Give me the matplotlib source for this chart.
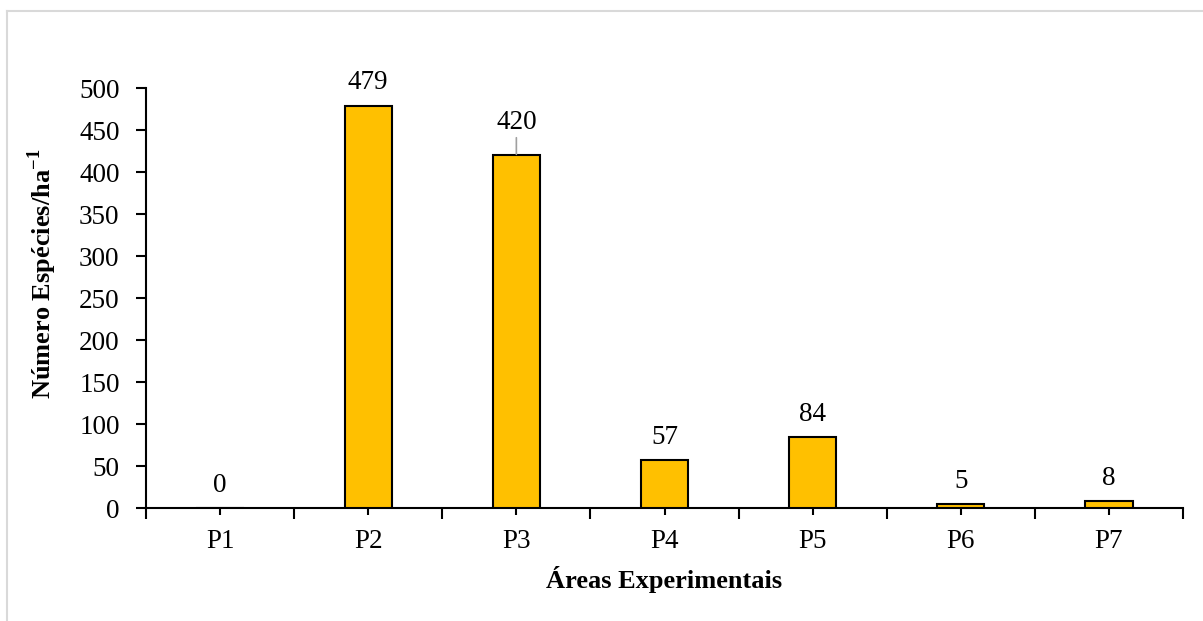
import matplotlib
matplotlib.use("Agg")
import matplotlib.pyplot as plt
from matplotlib.lines import Line2D
import numpy as np

categories = ["P1", "P2", "P3", "P4", "P5", "P6", "P7"]
values = [0, 479, 420, 57, 84, 5, 8]
yticks = [0, 50, 100, 150, 200, 250, 300, 350, 400, 450, 500]

plt.rcParams['font.family'] = ['Liberation Serif', 'DejaVu Serif']
plt.rcParams['mathtext.fontset'] = 'custom'
plt.rcParams['mathtext.rm'] = 'Liberation Serif'
plt.rcParams['mathtext.bf'] = 'Liberation Serif:bold'
W, H = 1203, 621
fig = plt.figure(figsize=(W / 100, H / 100), dpi=100)
ax = fig.add_axes([146 / W, 1 - 508 / H, (1183 - 146) / W, (508 - 88) / H])

x = np.arange(len(categories))
ax.bar(x, values, width=0.32, color="#FFC000", edgecolor="black", linewidth=1.5, zorder=3)

FS = 19.5
ax.set_xlim(-0.5, len(categories) - 0.5)
ax.set_ylim(0, 500)
ax.set_yticks(yticks)
ax.set_yticklabels([str(v) for v in yticks], fontsize=FS)

ax.set_xticks(np.arange(-0.5, len(categories), 1.0))
ax.set_xticklabels([])
ax.set_xticks(x, minor=True)
ax.set_xticklabels(categories, minor=True, fontsize=FS)
ax.tick_params(axis='x', which='major', length=8, width=1.5, direction='out')
ax.tick_params(axis='x', which='minor', length=5, width=1.5, direction='out', pad=10)
ax.tick_params(axis='y', length=7, width=1.5, direction='out', pad=12)

for s in ['top', 'right']:
    ax.spines[s].set_visible(False)
for s in ['left', 'bottom']:
    ax.spines[s].set_linewidth(1.5)

for xi, v in zip(x, values):
    if v == 420:
        ax.annotate(str(v), xy=(xi, v + 1), xytext=(xi, v + 39), ha='center', va='center',
                    fontsize=FS, arrowprops=dict(arrowstyle='-', color='#a0a0a0', lw=1.2,
                                                 shrinkA=12, shrinkB=0))
    else:
        ax.text(xi, v + 27, str(v), ha='center', va='center', fontsize=FS)

ax.set_xlabel("Áreas Experimentais", fontsize=19, fontweight='bold', labelpad=9)
ax.set_ylabel("Número Espécies/ha$^{\\mathbf{-1}}$", fontsize=19, fontweight='bold')
ax.yaxis.set_label_coords(-0.084, 0.557)

fig.add_artist(Line2D([7 / W, 7 / W], [0, 1 - 11 / H], transform=fig.transFigure, color="#d9d9d9", lw=1.5))
fig.add_artist(Line2D([7 / W, 1], [1 - 11 / H, 1 - 11 / H], transform=fig.transFigure, color="#d9d9d9", lw=1.5))

fig.savefig("out.png", dpi=100)
